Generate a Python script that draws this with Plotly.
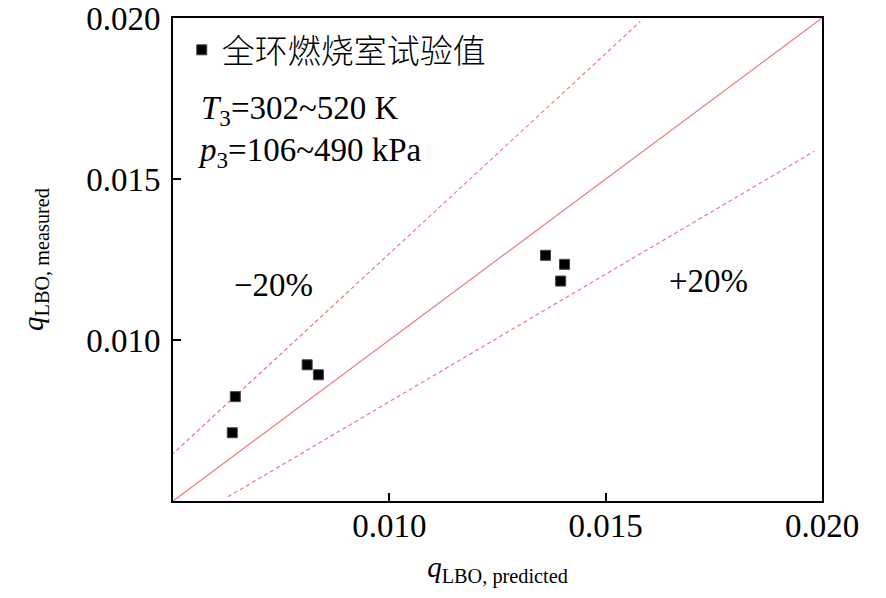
import plotly.graph_objects as go

# measured vs predicted lean blow-out fuel/air ratio
q_predicted = [0.00644, 0.00637, 0.00810, 0.00836, 0.01361, 0.01405, 0.01396]
q_measured = [0.00824, 0.00712, 0.00923, 0.00892, 0.01263, 0.01235, 0.01183]

# reference lines
diag_x = [0.005, 0.020]
diag_y = [0.005, 0.020]
upper_x = [0.00496, 0.01580]
upper_y = [0.00642, 0.01989]
lower_x = [0.00627, 0.01982]
lower_y = [0.00513, 0.01586]

tick_vals = [0.010, 0.015, 0.020]
tick_text = ['0.010', '0.015', '0.020']

serif = 'Liberation Serif, Times New Roman, serif'
red = '#EE7B7B'

# page body adds 8px on the left and top, so the figure is 8px smaller
layout = go.Layout(
    width = 878,
    height = 590,
    paper_bgcolor = 'white',
    plot_bgcolor = 'white',
    font = dict(family = serif, color = 'black', size = 32),
    margin = dict(l = 165, r = 64, t = 10, b = 97),
    showlegend = True,
    legend = dict(x = 0.0135, y = 0.934, xanchor = 'left', yanchor = 'middle',
                  bgcolor = 'rgba(0,0,0,0)', itemwidth = 30,
                  font = dict(family = 'Noto Sans CJK SC', size = 33, weight = 300)),
    xaxis = dict(range = [0.005, 0.020], showgrid = False, zeroline = False,
                 showline = True, mirror = True, linecolor = 'black', linewidth = 2,
                 ticks = 'inside', ticklen = 8, tickwidth = 2, tickcolor = 'black',
                 tickvals = tick_vals, ticktext = tick_text,
                 tickfont = dict(size = 33), automargin = False,
                 ticklabelstandoff = -6, ticklabeloverflow = 'allow',
                 title = dict(text = '<i>q</i><sub>LBO, predicted</sub>',
                              font = dict(size = 29), standoff = 14)),
    yaxis = dict(range = [0.005, 0.020], showgrid = False, zeroline = False,
                 showline = True, mirror = True, linecolor = 'black', linewidth = 2,
                 ticks = 'inside', ticklen = 8, tickwidth = 2, tickcolor = 'black',
                 tickvals = tick_vals, ticktext = tick_text,
                 tickfont = dict(size = 33), automargin = False,
                 ticklabelstandoff = 4, ticklabeloverflow = 'allow',
                 title = dict(text = '<i>q</i><sub>LBO, measured</sub>',
                              font = dict(size = 29), standoff = 34)),
)

fig = go.Figure(layout = layout)

fig.add_trace(go.Scatter(x = diag_x, y = diag_y, mode = 'lines', showlegend = False,
                         line = dict(color = red, width = 1.2), hoverinfo = 'skip'))
fig.add_trace(go.Scatter(x = upper_x, y = upper_y, mode = 'lines', showlegend = False,
                         line = dict(color = red, width = 1.2, dash = '4px,3px'), hoverinfo = 'skip'))
fig.add_trace(go.Scatter(x = lower_x, y = lower_y, mode = 'lines', showlegend = False,
                         line = dict(color = red, width = 1.2, dash = '4px,3px'), hoverinfo = 'skip'))

fig.add_trace(go.Scatter(x = q_predicted, y = q_measured, mode = 'markers',
                         name = '全环燃烧室试验值',
                         marker = dict(symbol = 'square', size = 10, color = 'black',
                                       line = dict(color = '#444444', width = 1))))

fig.add_annotation(x = 0.00732, y = 0.0117, xref = 'x', yref = 'y', text = '−20%',
                   showarrow = False, font = dict(size = 33))
fig.add_annotation(x = 0.01738, y = 0.01183, xref = 'x', yref = 'y', text = '+20%',
                   showarrow = False, font = dict(size = 33))
fig.add_annotation(x = 0.04, y = 0.856, xref = 'paper', yref = 'paper', xanchor = 'left',
                   text = '<i>T</i><sub>3</sub>=302~520 K', showarrow = False,
                   font = dict(size = 33))
fig.add_annotation(x = 0.035, y = 0.769, xref = 'paper', yref = 'paper', xanchor = 'left',
                   text = '<i>p</i><sub>3</sub>=106~490 kPa', showarrow = False,
                   font = dict(size = 33))

fig.write_html('out.html')
